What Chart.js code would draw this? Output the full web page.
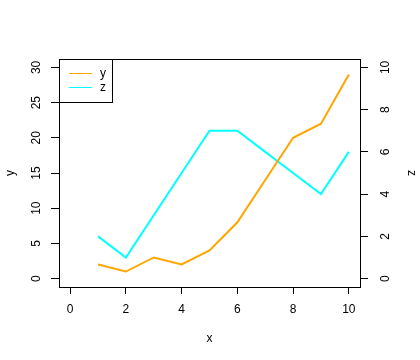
<!DOCTYPE html>
<html>
<head>
<meta charset="utf-8">
<script src="https://cdn.jsdelivr.net/npm/chart.js@4"></script>
<style>
  body { margin: 0; background: #fff; }
  #wrap { width: 420px; height: 360px; }
</style>
</head>
<body>
<div id="wrap"><canvas id="myChart" width="420" height="360"></canvas></div>
<script>
// data
const xs = [1, 2, 3, 4, 5, 6, 7, 8, 9, 10];
const yVals = [2, 1, 3, 2, 4, 8, 14, 20, 22, 29];   // orange, left axis
const zVals = [2, 1, 3, 5, 7, 7, 6, 5, 4, 6];       // cyan, right axis
const xTicks = [0, 2, 4, 6, 8, 10];
const yTicks = [0, 5, 10, 15, 20, 25, 30];
const zTicks = [0, 2, 4, 6, 8, 10];

const ctx = document.getElementById("myChart");
Chart.defaults.font.family = "'Liberation Sans', Arial, sans-serif";
Chart.defaults.font.size = 12;
Chart.defaults.color = "#000";

// box round the plot region + legend in the top left corner (R style)
const boxPlugin = {
  id: "rbox",
  afterDraw(chart) {
    const c = chart.ctx;
    const a = chart.chartArea;
    c.save();
    c.strokeStyle = "#000";
    c.lineWidth = 1;
    c.strokeRect(a.left + 0.5, a.top + 0.5, a.right - a.left, a.bottom - a.top);

    // legend
    const lx = a.left, ly = a.top, lw = 53, lh = 43;
    c.fillStyle = "#fff";
    c.fillRect(lx + 1, ly + 1, lw - 1, lh - 1);
    c.strokeRect(lx + 0.5, ly + 0.5, lw, lh);
    c.font = "12px 'Liberation Sans', Arial, sans-serif";
    c.textBaseline = "middle";
    c.textAlign = "left";
    chart.data.datasets.forEach((ds, i) => {
      const yy = ly + 14.5 + i * 14;
      c.strokeStyle = ds.borderColor;
      c.beginPath();
      c.moveTo(lx + 10, yy);
      c.lineTo(lx + 33, yy);
      c.stroke();
      c.fillStyle = "#000";
      c.fillText(ds.label, lx + 41, yy);
    });
    c.restore();
  },
};

function setTicks(list) {
  return (scale) => {
    scale.ticks = list.map((v) => ({ value: v }));
  };
}

new Chart(ctx, {
  type: "line",
  data: {
    labels: xs,
    datasets: [
      {
        label: "y",
        data: xs.map((x, i) => ({ x: x, y: yVals[i] })),
        borderColor: "#FFA500",
        borderWidth: 2,
        pointRadius: 0,
        tension: 0,
        yAxisID: "y",
      },
      {
        label: "z",
        data: xs.map((x, i) => ({ x: x, y: zVals[i] })),
        borderColor: "#00FFFF",
        borderWidth: 2,
        pointRadius: 0,
        tension: 0,
        yAxisID: "z",
      },
    ],
  },
  options: {
    responsive: false,
    animation: false,
    layout: { padding: { top: 59, left: 0, right: 0, bottom: 0 } },
    plugins: {
      legend: { display: false },
      tooltip: { enabled: false },
    },
    scales: {
      x: {
        type: "linear",
        position: "bottom",
        min: -0.4,
        max: 10.4,
        afterBuildTicks: setTicks(xTicks),
        afterFit: (s) => { s.height = 73; },
        grid: { drawOnChartArea: false, tickLength: 7, tickColor: "#000" },
        border: { display: true, color: "#000" },
        ticks: { padding: 8, maxRotation: 0 },
        title: { display: true, text: "x", padding: { top: 14, bottom: 14 } },
      },
      y: {
        type: "linear",
        position: "left",
        min: -1.2,
        max: 31.2,
        afterBuildTicks: setTicks(yTicks),
        afterFit: (s) => { s.width = 59; },
        grid: { drawOnChartArea: false, tickLength: 8, tickColor: "#000" },
        border: { display: true, color: "#000" },
        ticks: { minRotation: 90, maxRotation: 90, crossAlign: "center", padding: 8 },
        title: { display: true, text: "y", padding: { top: 3, bottom: 3 } },
      },
      z: {
        type: "linear",
        position: "right",
        min: -0.4,
        max: 10.4,
        afterBuildTicks: setTicks(zTicks),
        afterFit: (s) => { s.width = 60; },
        grid: { drawOnChartArea: false, tickLength: 8, tickColor: "#000" },
        border: { display: true, color: "#000" },
        ticks: { minRotation: 90, maxRotation: 90, crossAlign: "center", padding: 11 },
        title: { display: true, text: "z", padding: { top: 1, bottom: 1 } },
      },
    },
  },
  plugins: [boxPlugin],
});
</script>
</body>
</html>
